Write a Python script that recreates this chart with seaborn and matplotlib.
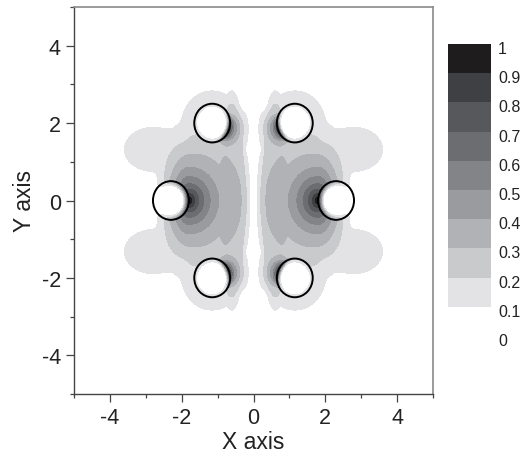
import numpy as np
import matplotlib
matplotlib.use("Agg")
import matplotlib.pyplot as plt
from matplotlib.patches import Circle
from matplotlib.colors import ListedColormap, BoundaryNorm
from matplotlib.transforms import ScaledTranslation
import seaborn as sns

# contour levels and the grey shade of each band (lowest band left white)
levels = [0.0, 0.1, 0.2, 0.3, 0.4, 0.5, 0.6, 0.7, 0.8, 0.9, 1.0]
level_labels = ["0", "0.1", "0.2", "0.3", "0.4", "0.5", "0.6", "0.7", "0.8", "0.9", "1"]
band_colors = ["#ffffff", "#e3e3e5", "#c9cacc", "#b1b2b5", "#9a9b9e",
               "#838487", "#6c6d70", "#56585b", "#3f4043", "#1f1c1d"]

# six rods on a hexagon
rod_x = [-1.15, 1.15, -2.3, 2.3, -1.15, 1.15]
rod_y = [2.0, 2.0, 0.0, 0.0, -2.0, -2.0]
rod_radius = 0.5

# field terms in the first quadrant, mirrored in x and y
# main hot spot beside the middle rod: peak position, peak value, decay, x/y scales
core_x, core_y = 1.8, 0.0
core_amp, core_decay = 1.0, 0.68
core_sx_in, core_sx_out, core_sy = 1.0, 0.55, 1.05

# crescent on the inner face of the outer rods: amplitude, decay, cutoff, angle, power
cres_amp, cres_decay, cres_cut = 0.82, 0.2, 0.7
cres_angle, cres_power = 200.0, 2.5

# flat-topped lobes: cx, cy, sx, sy, amplitude, exponent
lobe_cx = [1.3, 0.6, 2.8]
lobe_cy = [0.0, 0.0, 1.32]
lobe_sx = [1.35, 0.4, 0.92]
lobe_sy = [1.9, 2.85, 0.66]
lobe_amp = [0.26, 0.26, 0.15]
lobe_exp = [3.0, 4.0, 3.0]

# light halo round the outer rods: amplitude, width
halo_amp, halo_width = 0.16, 0.4

axis_ticks = [-4, -2, 0, 2, 4]
axis_minor = [-5, -3, -1, 1, 3, 5]

n = 700
x = np.linspace(-5, 5, n)
y = np.linspace(-5, 5, n)
X, Y = np.meshgrid(x, y)
AX, AY = np.abs(X), np.abs(Y)

parts = []

# hot spot, shadowed behind the middle rod
dx, dy = AX - core_x, AY - core_y
d = np.hypot(dx / np.where(dx < 0, core_sx_in, core_sx_out), dy / core_sy)
core = core_amp / (1.0 + d / core_decay) * np.exp(-(d / 2.0) ** 2)
mx, my = AX - rod_x[3], AY - rod_y[3]
mr = np.hypot(mx, my) + 1e-9
core *= 1.0 - np.clip(mx / mr, 0, 1) ** 2
parts.append(core)

# crescent and halo round the outer rod
ox, oy = AX - rod_x[1], AY - rod_y[1]
orr = np.hypot(ox, oy) + 1e-9
s = orr - rod_radius
th = np.deg2rad(cres_angle)
facing = np.clip((ox * np.cos(th) + oy * np.sin(th)) / orr, 0, None) ** cres_power
radial = np.where(s >= 0, 1.0 / (1.0 + s / cres_decay) * np.exp(-(s / cres_cut) ** 2),
                  np.exp(-(s / 0.1) ** 2))
parts.append(cres_amp * facing * radial)
parts.append(halo_amp * np.exp(-(np.clip(s, 0, None) / halo_width) ** 4))

for cx, cy, sx, sy, a, e in zip(lobe_cx, lobe_cy, lobe_sx, lobe_sy, lobe_amp, lobe_exp):
    q = ((AX - cx) / sx) ** 2 + ((AY - cy) / sy) ** 2
    parts.append(a * np.exp(-q ** e))

# soft maximum of the parts
k = 4.0
field = sum(p ** k for p in parts) ** (1.0 / k)

# quiet strip along the symmetry axis, fading inside the rods
field *= 1.0 - np.exp(-(AX / 0.12) ** 2)
for cx, cy in zip(rod_x, rod_y):
    r = np.hypot(X - cx, Y - cy)
    field *= np.clip((r - rod_radius) / 0.16 + 1.0, 0, 1)
field = np.clip(field, 0, 0.999)

sns.set_style("ticks")
plt.rcParams["font.family"] = ["Liberation Sans", "DejaVu Sans"]

fig = plt.figure(figsize=(5.22, 4.60), dpi=100)
ax = fig.add_axes([74 / 522, 65 / 460, 359 / 522, 387 / 460])
cax = fig.add_axes([448 / 522, 123 / 460, 43 / 522, 292 / 460])

cmap = ListedColormap(sns.color_palette(band_colors))
norm = BoundaryNorm(levels, cmap.N)
cf = ax.contourf(X, Y, field, levels=levels, cmap=cmap, norm=norm)

for cx, cy in zip(rod_x, rod_y):
    ax.add_patch(Circle((cx, cy), rod_radius, facecolor="none",
                        edgecolor="black", linewidth=1.4, zorder=3))

ax.set_xlim(-5, 5)
ax.set_ylim(-5, 5)
ax.set_xticks(axis_ticks)
ax.set_yticks(axis_ticks)
ax.set_xticks(axis_minor, minor=True)
ax.set_yticks(axis_minor, minor=True)
ax.set_xticklabels([str(t) for t in axis_ticks])
ax.set_yticklabels([str(t) for t in axis_ticks])
ax.tick_params(which="major", direction="out", length=5.5, width=0.9,
               color="#444444", labelsize=15.5, labelcolor="#222222", pad=4)
ax.tick_params(which="minor", direction="out", length=3, width=0.9, color="#444444")
ax.set_xlabel("X axis", fontsize=16.5, color="#222222", labelpad=1)
ax.set_ylabel("Y axis", fontsize=16.5, color="#222222", labelpad=4)
for side in ["left", "bottom"]:
    ax.spines[side].set_color("#444444")
    ax.spines[side].set_linewidth(1.0)
for side in ["top", "right"]:
    ax.spines[side].set_color("#8a8a8a")
    ax.spines[side].set_linewidth(1.2)
ax.set_facecolor("white")

cb = fig.colorbar(cf, cax=cax, ticks=levels)
cb.outline.set_visible(False)
cb.ax.set_yticklabels(level_labels)
cb.ax.tick_params(length=0, labelsize=11.5, labelcolor="#222222", pad=5)
shift = ScaledTranslation(0, -3 / 100, fig.dpi_scale_trans)
for lab in cb.ax.get_yticklabels():
    lab.set_transform(lab.get_transform() + shift)

fig.savefig("out.png", dpi=100, facecolor="white")
